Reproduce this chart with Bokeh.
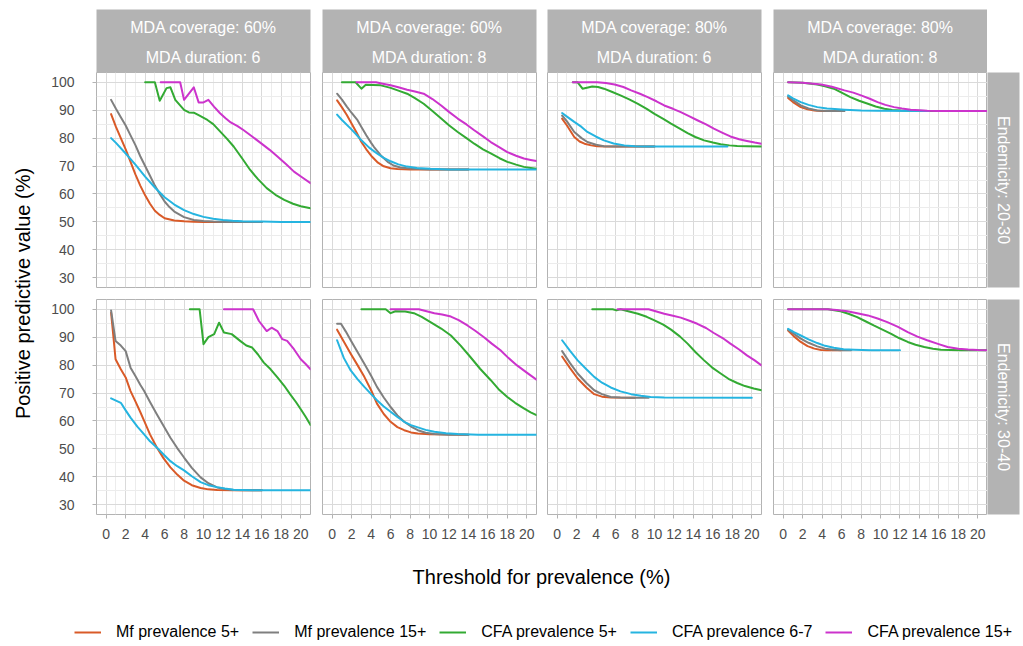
import math

from bokeh.core.properties import value
from bokeh.embed import file_html
from bokeh.layouts import column, row
from bokeh.models import (FixedTicker, Grid, Label, Legend, LegendItem,
                          LinearAxis, Range1d, Spacer)
from bokeh.plotting import figure
from bokeh.resources import INLINE

FONT = "Liberation Sans"

# ---------------------------------------------------------------- labels
X_TICKS = [0, 2, 4, 6, 8, 10, 12, 14, 16, 18, 20]
X_MINOR = [1, 3, 5, 7, 9, 11, 13, 15, 17, 19]
Y_TICKS = [30, 40, 50, 60, 70, 80, 90, 100]
Y_MINOR = [35, 45, 55, 65, 75, 85, 95]

COVERAGE_LABELS = ["MDA coverage: 60%", "MDA coverage: 60%",
                   "MDA coverage: 80%", "MDA coverage: 80%"]
DURATION_LABELS = ["MDA duration: 6", "MDA duration: 8",
                   "MDA duration: 6", "MDA duration: 8"]
ENDEMICITY_LABELS = ["Endemicity: 20-30", "Endemicity: 30-40"]

SERIES_NAMES = ["Mf prevalence 5+", "Mf prevalence 15+", "CFA prevalence 5+",
                "CFA prevalence 6-7", "CFA prevalence 15+"]
SERIES_COLORS = ["#D95A28", "#7F7F7F", "#33AA33", "#25B4E0", "#CC33CC"]

# ---------------------------------------------------------------- data
# (threshold %, positive predictive value %)

# Endemicity 20-30, coverage 60%, duration 6
E2030_C60D6_MF5 = [(0.5, 88.6), (1, 84), (1.5, 80), (2, 76), (2.5, 71.5), (3, 67), (3.5, 63),
                   (4, 59.5), (4.5, 56.5), (5, 54), (5.5, 52.5), (6, 51.3), (7, 50.5), (8, 50.2),
                   (9, 50.05), (10, 50), (16, 50)]
E2030_C60D6_MF15 = [(0.5, 93.7), (1, 90.5), (1.5, 87.5), (2, 84.5), (2.5, 81), (3, 77.5), (3.5, 73.5),
                    (4, 70), (4.5, 66.5), (5, 63), (5.5, 60), (6, 57.3), (6.5, 55.3), (7, 53.7),
                    (8, 51.7), (9, 50.7), (10, 50.3), (11, 50.1), (12, 50), (16, 50)]
E2030_C60D6_CFA5 = [(4, 100), (5, 100), (5.5, 93.4), (6.2, 97.9), (6.6, 98.2), (7.1, 93.7), (8, 90.1),
                    (8.5, 89.2), (9, 89.1), (9.5, 88.2), (10.4, 86.5), (11, 85), (11.7, 82.4),
                    (12.4, 79.8), (13.1, 77), (14, 72.6), (14.8, 68.6), (15.6, 65.3), (16.5, 62.1),
                    (17.4, 59.7), (18.3, 57.9), (19.2, 56.5), (20, 55.6), (21, 54.9)]
E2030_C60D6_CFA67 = [(0.5, 80), (1, 78.3), (2, 74.5), (3, 70.5), (4, 66.2), (5, 62.3), (6, 58.8),
                     (7, 56.2), (8, 54.2), (9, 52.8), (10, 51.8), (11, 51.1), (12, 50.7), (13, 50.4),
                     (14, 50.2), (16, 50.1), (18, 50), (21, 50)]
E2030_C60D6_CFA15 = [(5.6, 100), (7.6, 100), (8, 93.7), (9, 98.2), (9.5, 92.8), (10, 92.8),
                     (10.5, 93.7), (11.1, 91.2), (11.7, 88.9), (12.3, 87), (12.8, 85.6), (13.5, 84.3),
                     (14.1, 82.9), (15, 80.6), (15.9, 78.2), (16.8, 75.8), (17.6, 73.4), (18.5, 70.6),
                     (19.3, 68), (20.2, 65.8), (21, 63.9)]

# Endemicity 20-30, coverage 60%, duration 8
E2030_C60D8_MF5 = [(0.5, 93.5), (1, 91), (1.5, 88.3), (1.9, 85.8), (2.5, 82), (3, 78.6), (3.5, 76),
                   (4.1, 73.3), (4.7, 71.2), (5.3, 69.9), (6, 69.2), (6.7, 68.9), (8, 68.8), (14, 68.8)]
E2030_C60D8_MF15 = [(0.5, 95.9), (1, 93.8), (1.5, 91.3), (2, 89), (2.6, 86.4), (3, 84), (3.5, 81),
                    (4, 78.3), (4.3, 76.8), (5, 73.8), (5.7, 71.5), (6.3, 70.2), (7, 69.5), (8, 69.1),
                    (9, 68.9), (10, 68.8), (14, 68.8)]
E2030_C60D8_CFA5 = [(1, 100), (2.4, 100), (3, 97.7), (3.45, 99.1), (4.2, 99), (5, 98.9), (6, 98),
                    (6.8, 97), (7.7, 95.9), (8.5, 94.3), (9.4, 92.3), (10.3, 89.7), (11.2, 87),
                    (12, 84.6), (12.9, 82.2), (13.8, 80), (14.6, 78), (15.5, 76), (16.3, 74.5),
                    (17.2, 72.8), (18, 71.5), (18.9, 70.5), (19.7, 69.7), (20.4, 69.3), (21, 69)]
E2030_C60D8_CFA67 = [(0.5, 88.4), (1, 86.5), (1.9, 83.4), (2.5, 81.2), (3, 79.2), (3.8, 76.6),
                     (4.6, 74.5), (5.3, 72.9), (6, 71.7), (6.8, 70.6), (7.7, 69.8), (8.7, 69.3),
                     (10.1, 69), (12, 68.8), (21, 68.8)]
E2030_C60D8_CFA15 = [(2.5, 100), (4.5, 100), (5.2, 99.5), (6, 98.9), (6.8, 98.2), (7.7, 97.3),
                     (8.5, 96.7), (9.4, 95.9), (10.3, 94), (11.2, 91.7), (12, 89.4), (12.9, 87),
                     (13.8, 84.9), (14.6, 82.8), (15.5, 80.6), (16.3, 78.6), (17.2, 76.7), (18, 75),
                     (18.9, 73.7), (19.7, 72.7), (20.4, 72.2), (21, 71.8)]

# Endemicity 20-30, coverage 80%, duration 6
E2030_C80D6_MF5 = [(0.5, 87), (1, 84.5), (1.75, 80.4), (2.3, 78.8), (2.8, 78), (3.5, 77.4),
                   (4.1, 77.1), (5, 77), (10, 77)]
E2030_C80D6_MF15 = [(0.5, 88.1), (1, 86), (1.75, 82.2), (2.5, 80), (3.1, 78.6), (4, 77.6),
                    (4.8, 77.1), (6, 77), (10, 77)]
E2030_C80D6_CFA5 = [(1.6, 100), (2.1, 100), (2.6, 97.7), (3.6, 98.5), (4.2, 98.3), (4.8, 97.7),
                    (5.6, 96.6), (6.5, 95.3), (7.4, 93.9), (8.3, 92.3), (9.2, 90.5), (10, 88.7),
                    (10.9, 86.9), (11.7, 85.2), (12.6, 83.4), (13.4, 81.8), (14.2, 80.4), (15.1, 79.2),
                    (16, 78.4), (16.8, 77.8), (17.7, 77.4), (18.5, 77.2), (19.5, 77.1), (21, 77)]
E2030_C80D6_CFA67 = [(0.5, 89), (1, 87.7), (1.75, 85.8), (2.5, 84), (3.1, 82.2), (4, 80.5),
                     (4.8, 79.2), (5.8, 78.1), (6.9, 77.4), (8, 77.1), (9.3, 77), (17.5, 77)]
E2030_C80D6_CFA15 = [(1.6, 100), (4.1, 100), (5, 99.7), (5.9, 99.2), (6.8, 98.3), (7.6, 97.1),
                     (8.5, 95.9), (9.3, 94.7), (10.2, 93.2), (11, 91.7), (11.9, 90.5), (12.7, 89.3),
                     (13.6, 87.8), (14.4, 86.4), (15.3, 84.9), (16.1, 83.4), (17, 81.9), (17.8, 80.6),
                     (18.7, 79.6), (19.5, 79), (20.3, 78.4), (21, 78)]

# Endemicity 20-30, coverage 80%, duration 8
E2030_C80D8_MF5 = [(0.5, 94.4), (1, 92.9), (1.8, 91.1), (2.5, 90.3), (3.2, 89.9), (4, 89.7), (6, 89.7)]
E2030_C80D8_MF15 = [(0.5, 94.9), (1, 93.6), (1.8, 91.7), (2.6, 90.6), (3.5, 89.9), (4.5, 89.7),
                    (6.3, 89.7)]
E2030_C80D8_CFA5 = [(0.5, 100), (2, 99.8), (3.5, 99.2), (4.3, 98.6), (5.2, 97.7), (6, 96.3),
                    (6.9, 94.7), (7.8, 93.4), (8.7, 92.3), (9.5, 91.3), (10.4, 90.5), (11.2, 90.1),
                    (12.1, 89.9), (13, 89.8), (14.8, 89.7), (16, 89.7)]
E2030_C80D8_CFA67 = [(0.5, 95.3), (1, 94.2), (1.8, 92.9), (2.6, 91.9), (3.5, 91.1), (4.5, 90.6),
                     (5.3, 90.4), (6.3, 90.2), (8, 89.9), (9.7, 89.8), (15, 89.7)]
E2030_C80D8_CFA15 = [(0.5, 100), (2, 99.8), (3.9, 99.2), (5, 98.4), (6.3, 97.1), (7.2, 96.3),
                     (8, 95.3), (8.9, 94.1), (9.7, 92.9), (10.5, 91.9), (11.4, 91.1), (12.2, 90.6),
                     (13.1, 90.2), (14, 90), (14.8, 89.8), (16, 89.7), (21, 89.7)]

# Endemicity 30-40, coverage 60%, duration 6
E3040_C60D6_MF5 = [(0.5, 98.8), (0.96, 82.1), (1.5, 78.5), (2, 75.6), (2.5, 70.7), (3, 67), (3.5, 63.2),
                   (3.9, 60), (4.5, 55.2), (5.2, 50.5), (5.9, 46.6), (6.6, 43.4), (7.3, 40.8),
                   (8, 38.6), (8.8, 37), (9.7, 36), (10.5, 35.5), (11.4, 35.3), (13, 35.2), (16, 35.2)]
E3040_C60D6_MF15 = [(0.5, 99.6), (0.96, 88.6), (1.5, 87), (2, 85), (2.5, 79.1), (3, 76.1), (3.5, 73),
                    (3.9, 70.7), (4.5, 66.8), (5.2, 62.4), (5.9, 58.2), (6.6, 54), (7.3, 50.3),
                    (8, 46.9), (8.8, 43.2), (9.7, 39.8), (10.5, 37.7), (11.4, 36.2), (12.2, 35.6),
                    (13.1, 35.3), (14, 35.2), (16, 35.2)]
E3040_C60D6_CFA5 = [(8.6, 100), (9.6, 100), (10, 87.5), (10.5, 90), (11.1, 91.1), (11.6, 95.2),
                    (12.1, 91.7), (12.9, 91.1), (13.8, 88.6), (14.4, 87), (15, 86.3), (15.6, 83.8),
                    (16.2, 80.9), (16.9, 78.5), (17.6, 75.6), (18.3, 72.6), (18.9, 69.6), (19.5, 66.8),
                    (20, 64.2), (20.5, 61.5), (21, 58.6)]
E3040_C60D6_CFA67 = [(0.5, 68.1), (1, 67.3), (1.5, 66.5), (2, 63.8), (2.5, 61.2), (3.2, 58), (3.9, 55.2),
                     (4.5, 52.7), (5.2, 50.5), (5.9, 48), (6.6, 45.6), (7.3, 43.8), (8, 42.3),
                     (8.8, 40.2), (9.7, 38.1), (10.5, 37), (11.4, 36.3), (12.2, 35.8), (13.1, 35.4),
                     (15, 35.2), (21, 35.2)]
E3040_C60D6_CFA15 = [(12.1, 100), (15.1, 100), (15.7, 95.8), (16.5, 92.2), (17, 93.4), (17.6, 92.2),
                     (18.1, 89.3), (18.6, 88.7), (19.3, 85.7), (20, 82.1), (20.5, 80.4), (21, 78.5)]

# Endemicity 30-40, coverage 60%, duration 8
E3040_C60D8_MF5 = [(0.5, 92.7), (1.2, 88.4), (1.9, 84.1), (2.6, 80), (3.3, 75.8), (4, 71), (4.6, 66.2),
                   (5.3, 62.5), (6, 59.7), (6.7, 57.8), (7.4, 56.7), (8.1, 55.9), (8.8, 55.5),
                   (10, 55.2), (14, 55.1)]
E3040_C60D8_MF15 = [(0.5, 94.8), (0.9, 94.8), (1.4, 92), (1.9, 88.9), (2.6, 84.7), (3.3, 80.5),
                    (4, 76.2), (4.6, 72.2), (5.3, 68.4), (6, 65), (6.7, 62), (7.4, 59.7), (8.1, 58),
                    (8.8, 56.7), (9.6, 55.8), (10.5, 55.3), (12, 55.1), (14, 55.1)]
E3040_C60D8_CFA5 = [(3, 100), (5.5, 100), (6, 98.6), (6.5, 99.3), (7.5, 99.2), (8.4, 98.6),
                    (9.2, 97.3), (10.1, 95.4), (11.2, 93.1), (12.2, 90.6), (13.2, 87), (14.2, 82.9),
                    (15.2, 78.7), (16.3, 74.6), (17.1, 71.4), (18, 68.6), (18.8, 66.5), (19.7, 64.5),
                    (20.4, 63.1), (21, 62.1)]
E3040_C60D8_CFA67 = [(0.5, 88.9), (1.2, 82.5), (1.9, 78.1), (2.6, 75), (3.3, 72.2), (4, 69.6),
                     (4.6, 67.4), (5.3, 65.2), (6, 63.3), (6.7, 61.4), (7.4, 59.7), (8.1, 58.5),
                     (8.8, 57.7), (9.6, 56.8), (10.5, 56.1), (11.7, 55.6), (12.9, 55.3), (15, 55.1),
                     (21, 55.1)]
E3040_C60D8_CFA15 = [(6, 100), (8.9, 100), (9.7, 99.3), (10.5, 98.6), (11.3, 98.1), (12.2, 97.4),
                     (13, 96.1), (13.9, 94.2), (14.7, 92.3), (15.6, 90), (16.4, 87.7), (17.3, 85.3),
                     (18.1, 82.6), (19, 79.9), (20, 77.3), (21, 74.8)]

# Endemicity 30-40, coverage 80%, duration 6
E3040_C80D6_MF5 = [(0.5, 83.1), (1.3, 79), (2.1, 75.2), (3, 72), (3.8, 69.6), (4.6, 68.7), (5.5, 68.4),
                   (8, 68.3)]
E3040_C80D6_MF15 = [(0.5, 85), (1.3, 80.8), (2.1, 77), (3, 73.6), (3.8, 71), (4.6, 69.6), (5.5, 68.6),
                    (6.5, 68.4), (7.5, 68.3), (9.4, 68.3)]
E3040_C80D6_CFA5 = [(3.6, 100), (5.7, 100), (6.1, 99.6), (6.5, 100), (7.4, 99.2), (8.3, 98.4),
                    (9.2, 97.3), (10, 96), (10.9, 94.5), (11.7, 92.7), (12.6, 90.3), (13.4, 87.7),
                    (14.2, 84.7), (15.1, 81.7), (15.9, 79.2), (16.8, 77), (17.6, 75.1), (18.5, 73.6),
                    (19.3, 72.5), (20.2, 71.6), (21, 71)]
E3040_C80D6_CFA67 = [(0.5, 88.9), (1.3, 85.2), (2.1, 81.7), (3, 78.5), (3.8, 75.8), (4.6, 73.7),
                     (5.5, 72), (6.5, 70.6), (7.6, 69.6), (8.6, 69), (9.6, 68.6), (11, 68.4), (20, 68.3)]
E3040_C80D6_CFA15 = [(6.2, 100), (9.4, 100), (10.2, 99.2), (11, 98.4), (11.9, 97.7), (12.7, 97),
                     (13.6, 95.9), (14.4, 94.8), (15.3, 93.3), (16.1, 91.5), (17, 89.7), (17.8, 87.7),
                     (18.7, 85.6), (19.5, 83.5), (20.3, 81.7), (21, 79.9)]

# Endemicity 30-40, coverage 80%, duration 8
E3040_C80D8_MF5 = [(0.5, 92.4), (1.1, 90.3), (1.8, 88.3), (2.5, 86.8), (3.2, 85.9), (3.9, 85.4),
                   (4.5, 85.3), (6, 85.3)]
E3040_C80D8_MF15 = [(0.5, 92.7), (1.1, 91.2), (1.8, 89.5), (2.6, 88), (3.5, 86.7), (4.3, 85.9),
                    (5.2, 85.5), (6, 85.3), (7, 85.3)]
E3040_C80D8_CFA5 = [(0.5, 100), (4.6, 100), (5.9, 99.3), (6.7, 98.4), (7.6, 97.2), (8.4, 95.8),
                    (9.3, 94.2), (10.2, 92.7), (11.1, 91.2), (11.9, 89.7), (12.8, 88.3), (13.6, 87.3),
                    (14.5, 86.5), (15.4, 85.9), (16.2, 85.5), (17.2, 85.4), (18.3, 85.3), (21, 85.3)]
E3040_C80D8_CFA67 = [(0.5, 93), (1.1, 91.8), (1.8, 90.6), (2.6, 89.2), (3.5, 87.9), (4.3, 86.9),
                     (5.2, 86.2), (6.2, 85.7), (7.3, 85.5), (9, 85.3), (12, 85.3)]
E3040_C80D8_CFA15 = [(0.5, 100), (4.5, 100), (5.5, 99.7), (6.6, 99.3), (7.6, 98.6), (8.7, 97.8),
                     (9.7, 96.7), (10.7, 95.4), (11.8, 93.7), (12.8, 91.8), (13.8, 90.2), (14.8, 88.9),
                     (15.9, 87.6), (16.9, 86.5), (18, 85.9), (19, 85.6), (20, 85.4), (21, 85.3)]

# panel grid: rows = endemicity, columns = coverage/duration
PANELS = [
    [
        [E2030_C60D6_MF5, E2030_C60D6_MF15, E2030_C60D6_CFA5, E2030_C60D6_CFA67, E2030_C60D6_CFA15],
        [E2030_C60D8_MF5, E2030_C60D8_MF15, E2030_C60D8_CFA5, E2030_C60D8_CFA67, E2030_C60D8_CFA15],
        [E2030_C80D6_MF5, E2030_C80D6_MF15, E2030_C80D6_CFA5, E2030_C80D6_CFA67, E2030_C80D6_CFA15],
        [E2030_C80D8_MF5, E2030_C80D8_MF15, E2030_C80D8_CFA5, E2030_C80D8_CFA67, E2030_C80D8_CFA15],
    ],
    [
        [E3040_C60D6_MF5, E3040_C60D6_MF15, E3040_C60D6_CFA5, E3040_C60D6_CFA67, E3040_C60D6_CFA15],
        [E3040_C60D8_MF5, E3040_C60D8_MF15, E3040_C60D8_CFA5, E3040_C60D8_CFA67, E3040_C60D8_CFA15],
        [E3040_C80D6_MF5, E3040_C80D6_MF15, E3040_C80D6_CFA5, E3040_C80D6_CFA67, E3040_C80D6_CFA15],
        [E3040_C80D8_MF5, E3040_C80D8_MF15, E3040_C80D8_CFA5, E3040_C80D8_CFA67, E3040_C80D8_CFA15],
    ],
]

# ---------------------------------------------------------------- layout
FRAME_W, FRAME_H = 214, 215
LEFT_PAD = 56                 # room for the y tick labels of the first column
RIGHT_GAP = [12, 11, 12, 0]   # space between neighbouring panels
ROW_BOTTOM = [12, 30]         # gap below row 1, x tick labels below row 2
STRIP_TOP_H = 72
STRIP_RIGHT_W = 36
TITLE_W = 40
BORDER = "#B3B3B3"


def blank(width, height, left=0, right=0, top=0, bottom=0, x_range=(0, 1), y_range=(0, 1)):
    p = figure(width=width, height=height, x_range=Range1d(*x_range), y_range=Range1d(*y_range),
               x_axis_location=None, y_axis_location=None, title_location=None,
               min_border_left=left, min_border_right=right, min_border_top=top,
               min_border_bottom=bottom, output_backend="svg", toolbar_location=None)
    p.center = []
    p.outline_line_color = None
    p.background_fill_color = "white"
    p.border_fill_color = "white"
    return p


def make_panel(r, c):
    left = LEFT_PAD if c == 0 else 0
    p = blank(left + FRAME_W + RIGHT_GAP[c], FRAME_H + ROW_BOTTOM[r], left=left, right=RIGHT_GAP[c],
              bottom=ROW_BOTTOM[r], x_range=(-1, 21), y_range=(26.5, 103.5))
    p.outline_line_color = BORDER
    p.outline_line_width = 1

    p.add_layout(Grid(dimension=0, ticker=FixedTicker(ticks=X_TICKS, minor_ticks=X_MINOR),
                      grid_line_color="#DADADA", grid_line_width=1,
                      minor_grid_line_color="#ECECEC", minor_grid_line_width=1))
    p.add_layout(Grid(dimension=1, ticker=FixedTicker(ticks=Y_TICKS, minor_ticks=Y_MINOR),
                      grid_line_color="#DADADA", grid_line_width=1,
                      minor_grid_line_color="#ECECEC", minor_grid_line_width=1))

    for pts, color in zip(PANELS[r][c], SERIES_COLORS):
        p.line(x=[a for a, _ in pts], y=[b for _, b in pts], line_color=color, line_width=2,
               line_join="round", line_cap="round")

    tick_style = dict(axis_line_color=None, major_tick_line_color=BORDER, major_tick_out=4,
                      major_tick_in=0, minor_tick_line_color=None,
                      major_label_text_font=FONT, major_label_text_font_size="14px",
                      major_label_text_color="#4D4D4D")
    if c == 0:
        p.add_layout(LinearAxis(ticker=FixedTicker(ticks=Y_TICKS), major_label_standoff=18,
                                **tick_style), "left")
    if r == 1:
        p.add_layout(LinearAxis(ticker=FixedTicker(ticks=X_TICKS), major_label_standoff=10,
                                **tick_style), "below")
    return p


def make_top_strip(c):
    left = LEFT_PAD if c == 0 else 0
    s = blank(left + FRAME_W + RIGHT_GAP[c], STRIP_TOP_H, left=left, right=RIGHT_GAP[c], top=9)
    s.background_fill_color = BORDER
    s.text(x=[0.5, 0.5], y=[0.715, 0.235], text=[COVERAGE_LABELS[c], DURATION_LABELS[c]],
           text_align="center", text_baseline="middle", text_color="white",
           text_font=value(FONT), text_font_size="16px")
    return s


def make_side_strip(r):
    s = blank(STRIP_RIGHT_W, FRAME_H + ROW_BOTTOM[r], right=STRIP_RIGHT_W - 32, bottom=ROW_BOTTOM[r])
    s.background_fill_color = BORDER
    s.text(x=[0.5], y=[0.5], text=[ENDEMICITY_LABELS[r]], angle=-math.pi / 2,
           text_align="center", text_baseline="middle", text_color="white",
           text_font=value(FONT), text_font_size="16px")
    return s


strip_row = row([make_top_strip(c) for c in range(4)] + [Spacer(width=STRIP_RIGHT_W, height=STRIP_TOP_H)])
panel_rows = [row([make_panel(r, c) for c in range(4)] + [make_side_strip(r)]) for r in range(2)]
grid_block = column([strip_row] + panel_rows)

grid_h = STRIP_TOP_H + 2 * FRAME_H + sum(ROW_BOTTOM)
ytitle = blank(TITLE_W, grid_h, x_range=(0, TITLE_W), y_range=(0, grid_h))
ytitle.add_layout(Label(x=22, y=grid_h - 293, text="Positive predictive value (%)", angle=math.pi / 2,
                        text_align="center", text_baseline="middle", text_font=FONT,
                        text_font_size="20px", text_color="black"))

total_w = TITLE_W + 282 + 225 + 226 + 214 + STRIP_RIGHT_W
bottom_h = 646 - grid_h
footer = blank(total_w, bottom_h, x_range=(0, total_w), y_range=(0, bottom_h))
footer.add_layout(Label(x=541, y=bottom_h - 32, text="Threshold for prevalence (%)",
                        text_align="center", text_baseline="middle", text_font=FONT,
                        text_font_size="20px", text_color="black"))

# legend keys: line renderers without visible points
legend_items = []
for name, color in zip(SERIES_NAMES, SERIES_COLORS):
    key = footer.line(x=[float("nan")], y=[float("nan")], line_color=color, line_width=2)
    legend_items.append(LegendItem(label=name, renderers=[key]))
footer.add_layout(Legend(items=legend_items, orientation="horizontal", location=(74, 5),
                         glyph_width=27, glyph_height=16, label_height=16, label_standoff=15,
                         spacing=13, padding=0, margin=0, border_line_color=None,
                         background_fill_alpha=0, label_text_font=FONT,
                         label_text_font_size="16px", label_text_color="black"))

layout = column(row(ytitle, grid_block), footer)

open("out.html", "w").write(file_html(layout, INLINE))
